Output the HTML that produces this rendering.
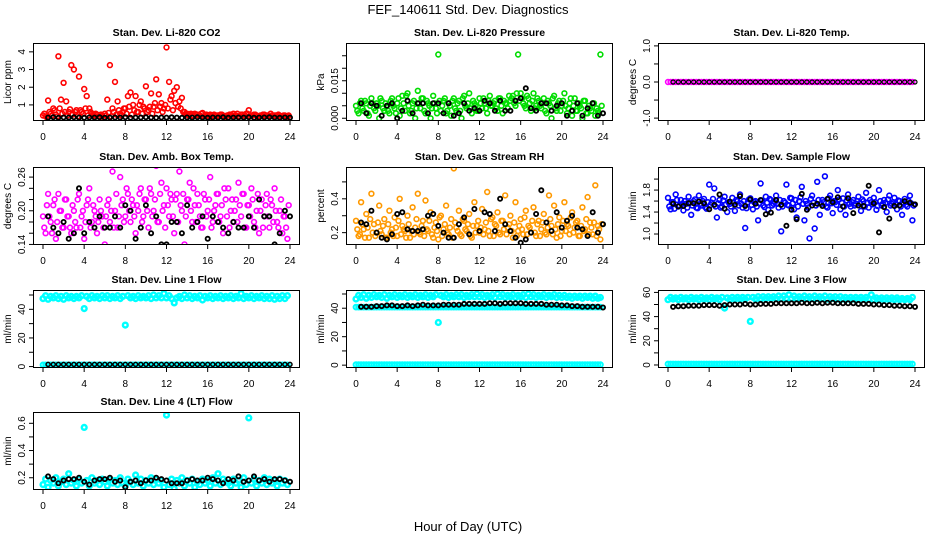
<!DOCTYPE html>
<html><head><meta charset="utf-8"><style>
html,body{margin:0;padding:0;background:#fff;}
svg{display:block;font-family:"Liberation Sans",sans-serif;}
</style></head><body>
<svg id="chart" width="936" height="540" viewBox="0 0 936 540" xmlns="http://www.w3.org/2000/svg">
<rect x="0" y="0" width="936" height="540" fill="#fff"/>
<text x="468" y="14" font-size="13" text-anchor="middle">FEF_140611  Std. Dev. Diagnostics</text>
<text x="468" y="531" font-size="13" text-anchor="middle">Hour of Day (UTC)</text>
</svg>
<script>
const xTicks=[0,4,8,12,16,20,24];
const hours96=Array.from({length:96},(_,i)=>i*0.25);
const hours96b=Array.from({length:96},(_,i)=>i*0.25+0.125);
const hours48=Array.from({length:48},(_,i)=>(i+1)*0.5);

const co2Red=[0.4,0.35,1.25,0.5,0.8,0.45,3.75,1.3,2.25,1.2,0.6,3.25,3.0,0.7,2.6,0.6,1.9,1.5,0.8,0.5,0.4,0.45,0.35,0.4,
0.5,1.3,3.25,0.8,2.3,1.2,0.5,0.6,0.8,1.5,1.7,1.0,1.5,0.6,1.2,0.9,2.05,0.7,1.65,0.9,2.45,1.6,1.1,0.8,
4.25,2.3,1.5,1.8,2.0,1.2,1.4,0.6,0.5,0.45,0.4,0.5,0.45,0.4,0.55,0.4,0.35,0.45,0.4,0.35,0.4,0.45,0.4,0.35,
0.4,0.45,0.5,0.4,0.35,0.45,0.4,0.5,0.7,0.4,0.45,0.4,0.35,0.4,0.45,0.4,0.35,0.4,0.4,0.35,0.4,0.35,0.4,0.35];
const co2Base=[0.5,0.3,0.6,0.4,0.7,0.35,0.8,0.5,0.6,0.4,0.75,0.45,0.6,0.35,0.7,0.5,0.8,0.4,0.6,0.45,0.5,0.35,0.45,0.3,
0.4,0.55,0.35,0.6,0.45,0.7,0.4,0.8,0.5,0.9,0.45,0.7,0.6,1.0,0.5,0.8,0.6,0.9,0.5,1.1,0.7,0.9,0.6,1.0,
0.8,1.3,0.7,1.1,0.9,0.8,0.6,0.5,0.4,0.5,0.35,0.45,0.4,0.5,0.35,0.45,0.4,0.3,0.45,0.4,0.35,0.45,0.3,0.4,
0.45,0.35,0.4,0.5,0.35,0.45,0.4,0.5,0.35,0.4,0.45,0.3,0.4,0.45,0.35,0.4,0.5,0.35,0.4,0.45,0.35,0.4,0.3,0.4];
const co2Black=[0.28,0.3,0.27,0.29,0.28,0.3,0.28,0.27,0.29,0.28,0.3,0.27,0.28,0.29,0.28,0.3,0.27,0.28,0.29,0.3,0.28,0.27,0.29,0.28,
0.3,0.28,0.27,0.29,0.28,0.3,0.28,0.27,0.29,0.28,0.3,0.27,0.28,0.29,0.28,0.3,0.27,0.28,0.29,0.3,0.28,0.27,0.29,0.28];

const pressGreen=[0.005,0.002,0.007,0.003,0.006,0.001,0.008,0.004,0.006,0.000,0.007,0.003,
0.005,0.002,0.008,0.004,0.006,0.001,0.009,0.003,0.010,0.002,0.006,0.000,
0.011,0.004,0.008,0.002,0.006,0.000,0.009,0.004,0.0255,0.003,0.007,0.002,
0.006,0.001,0.008,0.003,0.007,0.000,0.009,0.004,0.010,0.002,0.006,0.003,
0.008,0.004,0.006,0.002,0.009,0.005,0.007,0.003,0.008,0.002,0.006,0.004,
0.007,0.009,0.005,0.0255,0.010,0.006,0.004,0.008,0.003,0.010,0.005,0.007,
0.004,0.008,0.002,0.006,0.000,0.009,0.003,0.007,0.005,0.010,0.002,0.006,
0.001,0.008,0.003,0.005,0.000,0.007,0.002,0.004,0.006,0.001,0.003,0.0255];
const pressGreen2=[0.003,0.006,0.004,0.007,0.002,0.005,0.006,0.003,0.005,0.008,0.004,0.006,
0.003,0.007,0.005,0.002,0.008,0.004,0.006,0.009,0.005,0.003,0.007,0.004,
0.006,0.008,0.003,0.007,0.005,0.004,0.006,0.002,0.007,0.005,0.008,0.003,
0.005,0.007,0.004,0.006,0.003,0.008,0.005,0.006,0.004,0.007,0.005,0.003,
0.006,0.008,0.004,0.007,0.005,0.006,0.004,0.008,0.005,0.007,0.006,0.009,
0.008,0.006,0.010,0.007,0.008,0.005,0.009,0.006,0.007,0.004,0.008,0.005,
0.006,0.003,0.007,0.005,0.008,0.004,0.006,0.003,0.007,0.005,0.004,0.008,
0.005,0.003,0.006,0.004,0.007,0.002,0.005,0.003,0.006,0.004,0.002,0.005];
const pressBlack=[0.006,0.002,0.006,0.005,0.001,0.005,0.006,0.000,0.003,0.007,0.002,0.006,0.006,0.002,0.006,0.006,0.002,0.006,0.001,0.002,0.006,0.003,0.004,0.003,0.007,0.006,0.003,0.007,0.003,0.003,0.007,0.008,0.012,0.004,0.003,0.006,0.006,0.003,0.005,0.006,0.001,0.003,0.006,0.001,0.004,0.006,0.001,0.002];

const tempPink=new Array(96).fill(0);
const tempBlack=new Array(48).fill(0);

const ambPink=[0.19,0.16,0.23,0.18,0.21,0.15,0.23,0.20,0.17,0.22,0.19,0.16,
0.20,0.17,0.23,0.19,0.15,0.21,0.24,0.18,0.20,0.16,0.22,0.19,
0.14,0.21,0.18,0.27,0.20,0.17,0.26,0.22,0.19,0.23,0.18,0.21,
0.16,0.20,0.24,0.19,0.22,0.17,0.23,0.20,0.28,0.18,0.25,0.21,
0.24,0.19,0.22,0.16,0.23,0.27,0.20,0.14,0.22,0.25,0.18,0.21,
0.23,0.19,0.17,0.22,0.20,0.26,0.18,0.21,0.23,0.19,0.16,0.22,
0.24,0.20,0.18,0.22,0.25,0.19,0.23,0.17,0.21,0.24,0.18,0.20,
0.16,0.22,0.19,0.23,0.17,0.21,0.24,0.18,0.20,0.16,0.19,0.15];
const ambPink2=[0.17,0.21,0.19,0.16,0.22,0.18,0.20,0.17,0.22,0.19,0.17,0.21,
0.18,0.22,0.17,0.20,0.18,0.22,0.17,0.21,0.19,0.18,0.20,0.17,
0.19,0.22,0.20,0.17,0.23,0.19,0.21,0.18,0.24,0.20,0.22,0.19,
0.21,0.23,0.18,0.22,0.20,0.24,0.19,0.22,0.18,0.23,0.20,0.17,
0.21,0.23,0.19,0.22,0.18,0.21,0.23,0.19,0.22,0.20,0.24,0.18,
0.21,0.17,0.23,0.19,0.22,0.17,0.20,0.23,0.18,0.21,0.24,0.19,
0.17,0.22,0.20,0.18,0.21,0.23,0.17,0.21,0.19,0.22,0.17,0.23,
0.20,0.17,0.21,0.19,0.22,0.18,0.20,0.17,0.22,0.19,0.17,0.21];
const ambBlack=[0.19,0.17,0.16,0.18,0.15,0.16,0.24,0.16,0.18,0.17,0.19,0.17,0.17,0.19,0.17,0.21,0.20,0.15,0.17,0.21,0.16,0.19,0.14,0.14,0.18,0.18,0.16,0.21,0.17,0.18,0.19,0.15,0.19,0.18,0.17,0.16,0.18,0.17,0.17,0.19,0.17,0.22,0.19,0.19,0.14,0.16,0.20,0.19];

const rhOrange=[0.27,0.18,0.38,0.22,0.31,0.17,0.43,0.25,0.20,0.36,0.19,0.28,
0.17,0.33,0.22,0.29,0.18,0.40,0.24,0.21,0.30,0.17,0.35,0.23,
0.43,0.19,0.27,0.39,0.21,0.32,0.17,0.26,0.16,0.30,0.22,0.36,
0.19,0.28,0.58,0.23,0.33,0.18,0.27,0.21,0.31,0.17,0.38,0.24,
0.20,0.34,0.22,0.44,0.18,0.29,0.25,0.32,0.19,0.27,0.42,0.23,
0.30,0.17,0.38,0.21,0.28,0.19,0.33,0.24,0.20,0.35,0.18,0.27,
0.22,0.31,0.19,0.42,0.24,0.36,0.17,0.29,0.21,0.38,0.25,0.19,
0.32,0.23,0.27,0.18,0.35,0.22,0.41,0.26,0.19,0.48,0.24,0.16];
const rhOrange2=[0.22,0.19,0.25,0.17,0.23,0.28,0.20,0.18,0.26,0.21,0.24,0.17,
0.25,0.20,0.18,0.23,0.27,0.19,0.22,0.17,0.25,0.21,0.19,0.28,
0.20,0.24,0.18,0.22,0.27,0.19,0.23,0.21,0.29,0.18,0.25,0.20,
0.23,0.17,0.26,0.21,0.19,0.28,0.22,0.25,0.18,0.24,0.20,0.27,
0.23,0.19,0.26,0.21,0.28,0.18,0.24,0.20,0.27,0.22,0.19,0.25,
0.21,0.26,0.18,0.24,0.22,0.29,0.19,0.23,0.27,0.20,0.25,0.18,
0.26,0.20,0.23,0.28,0.19,0.22,0.25,0.18,0.27,0.21,0.24,0.29,
0.20,0.26,0.18,0.24,0.21,0.28,0.19,0.23,0.26,0.18,0.22,0.25];
const rhBlack=[0.26,0.25,0.33,0.20,0.17,0.16,0.19,0.31,0.32,0.22,0.21,0.21,0.22,0.30,0.31,0.24,0.20,0.17,0.17,0.25,0.29,0.19,0.34,0.21,0.32,0.31,0.21,0.40,0.25,0.21,0.17,0.14,0.16,0.20,0.31,0.45,0.26,0.21,0.32,0.23,0.27,0.30,0.23,0.22,0.18,0.32,0.20,0.25];

const flowBlue=[1.66,1.45,1.58,1.72,1.50,1.62,1.43,1.55,1.68,1.35,1.60,1.48,
1.70,1.52,1.64,1.46,1.90,1.57,1.83,1.30,1.62,1.50,1.68,1.40,
1.55,1.66,1.42,1.60,1.72,1.48,1.11,1.58,1.65,1.45,1.60,1.25,
1.92,1.52,1.68,1.44,1.62,1.55,1.70,1.48,1.05,1.60,1.90,1.52,
1.65,1.45,1.30,1.60,1.86,1.25,1.55,0.92,1.70,1.10,1.95,1.35,
1.62,2.05,1.48,1.70,1.38,1.58,1.80,1.45,1.65,1.35,1.72,1.50,
1.62,1.55,1.68,1.42,1.60,1.75,1.48,1.58,1.66,1.44,1.80,1.52,
1.62,1.40,1.70,1.55,1.66,1.45,1.60,1.35,1.64,1.50,1.70,1.25];
const flowBlue2=[1.50,1.58,1.46,1.62,1.52,1.55,1.60,1.48,1.57,1.52,1.63,1.47,
1.55,1.60,1.49,1.58,1.53,1.64,1.50,1.56,1.48,1.61,1.54,1.58,
1.50,1.57,1.62,1.52,1.55,1.60,1.47,1.63,1.53,1.58,1.50,1.56,
1.61,1.49,1.57,1.64,1.52,1.58,1.55,1.62,1.50,1.57,1.53,1.66,
1.56,1.62,1.50,1.67,1.55,1.60,1.48,1.64,1.57,1.52,1.62,1.55,
1.58,1.50,1.65,1.56,1.60,1.53,1.63,1.57,1.50,1.61,1.55,1.58,
1.52,1.60,1.56,1.63,1.50,1.57,1.62,1.54,1.58,1.51,1.60,1.55,
1.57,1.63,1.52,1.58,1.55,1.61,1.50,1.57,1.53,1.60,1.56,1.52];
const flowBlack=[1.55,1.50,1.51,1.56,1.56,1.59,1.56,1.45,1.53,1.72,1.46,1.59,1.53,1.69,1.51,1.63,1.55,1.62,1.36,1.39,1.62,1.53,1.15,1.44,1.27,1.73,1.44,1.52,1.55,1.51,1.64,1.58,1.67,1.50,1.65,1.38,1.52,1.51,1.88,1.56,1.03,1.49,1.28,1.51,1.52,1.60,1.57,1.54];

const line1Top=[47.5,49.5,47,49,48,49.5,47.5,49,47,49.5,48,49,
47.5,49,48,49.5,40.5,49,47.5,49.5,48,49,47.5,49.5,
48,49.5,47.5,49,48,49.5,47.5,49,29,49.5,48,49,
47.5,49.5,48,49,48,49.5,47.5,50,48,49.5,48,51,
48,49.5,47.5,44.5,48,49,47.5,50,48,49.5,47.5,49,
48,49.5,46.5,49,48,49.5,47.5,49,48,49.5,47.5,49,
48,49.5,47.5,49,48,51,47.5,49,48,49.5,47.5,49,
48,49.5,47.5,49,47.5,49.5,47,49,47.5,49.5,47.5,49.5];
const line1Base=new Array(96).fill(1.2);
const line1Black=new Array(48).fill(1.5);

const line2Top=[46.5,49,47.5,49.5,47,49,47.5,49.5,48,49,47.5,49.5,
47,49,48,49.5,47.5,49,48,49.5,47.5,49,48,49.5,
47.5,49,48,49.5,47.5,49,48,49.5,30,49,48,49.5,
47.5,49,48,49.5,48,49.5,47.5,49,48,49.5,48,50,
48,49.5,47.5,49,48,49.5,47.5,50,48,49.5,47.5,49,
48,49.5,47.5,49,48,49.5,47.5,50,48,49.5,47.5,49,
48,49.5,47.5,49,48,49.5,47.5,49,47.5,49,47.5,48.5,
47,48.5,47.5,48.5,47,48.5,47.5,48.5,47,48.5,47,47.5];
const line2Mid=new Array(96).fill(40.8);
const line2Base=new Array(96).fill(0.3);
const line2Black=[41,41,41,41.5,41.5,42,42,41.5,41.5,42,41.5,42,42.5,42,42,42,42.5,42.5,42.5,42.5,43,43,43,43,43,43.5,43.5,43,43.5,43.5,43.5,43.5,43,43,43,43,42.5,42.5,42.5,42,42,41.5,41.5,41,41,41,41,40.5];

const line3Top=[54,56,54.5,55.5,54,56,54.5,55.5,54,56,54.5,55.5,
54,56,54.5,55.5,54,56,54.5,55.5,54,56,47,55.5,
54,56,54.5,56,54.5,56,54.5,56,36,56,54.5,56.5,
54.5,56.5,55,56.5,55,56.5,55,57,55,57,55,58,
55,57,55,56.5,55,57,55,56.5,55,57,55,56.5,
55,57,54.5,56.5,55,56.5,54.5,56.5,54.5,56,54.5,56,
54.5,56,54.5,56,54.5,56,54.5,58,54,55.5,54,55.5,
54,55.5,54,55.5,54,55.5,54,55,54,55,54,56];
const line3Base=new Array(96).fill(0.8);
const line3Black=[48,48.5,48.5,49,49,49,49.5,49.5,49.5,49,49.5,50,50,50,50.5,50,50,50.5,50.5,50.5,51,51,51,51,51,51.5,51,51,51.5,51,51.5,51.5,51,51,51,51,50.5,50.5,50.5,50,50,49.5,49.5,49,49,48.5,48.5,48];

const line4Cyan=[0.15,0.19,0.13,0.18,0.16,0.20,0.14,0.17,0.19,0.15,0.23,0.16,
0.18,0.14,0.19,0.16,0.57,0.18,0.14,0.20,0.16,0.18,0.15,0.19,
0.17,0.14,0.19,0.16,0.18,0.15,0.20,0.16,0.14,0.19,0.17,0.15,
0.22,0.16,0.19,0.14,0.18,0.16,0.20,0.15,0.19,0.16,0.18,0.13,
0.66,0.15,0.19,0.12,0.18,0.16,0.20,0.14,0.18,0.16,0.19,0.13,
0.17,0.15,0.19,0.16,0.18,0.14,0.20,0.16,0.23,0.15,0.19,0.17,
0.16,0.14,0.19,0.16,0.18,0.13,0.20,0.15,0.64,0.16,0.19,0.14,
0.18,0.16,0.20,0.15,0.19,0.16,0.18,0.14,0.19,0.16,0.18,0.15];
const line4Black=[0.21,0.19,0.16,0.18,0.19,0.19,0.20,0.17,0.15,0.18,0.19,0.19,0.20,0.17,0.18,0.13,0.17,0.18,0.16,0.18,0.18,0.20,0.19,0.18,0.16,0.16,0.16,0.18,0.19,0.18,0.18,0.20,0.19,0.18,0.16,0.19,0.18,0.21,0.17,0.18,0.21,0.18,0.19,0.17,0.19,0.19,0.18,0.17];

const co2Ticks=[1,2,3,4], co2Labels=['1','2','3','4'];
const pressTicks=[0,0.005,0.01,0.015,0.02,0.025], pressLabels=['0.000','','','0.015','',''];
const tempTicks=[-1,-0.5,0,0.5,1], tempLabels=['-1.0','','0.0','','1.0'];
const ambTicks=[0.14,0.16,0.18,0.20,0.22,0.24,0.26], ambLabels=['0.14','','','0.20','','','0.26'];
const rhTicks=[0.2,0.3,0.4,0.5], rhLabels=['0.2','','0.4',''];
const flowTicks=[1.0,1.2,1.4,1.6,1.8,2.0], flowLabels=['1.0','','1.4','','1.8',''];
const l1Ticks=[0,10,20,30,40,50], l1Labels=['0','','20','','40',''];
const l3Ticks=[0,10,20,30,40,50,60], l3Labels=['0','','20','','40','','60'];
const l4Ticks=[0.2,0.3,0.4,0.5,0.6], l4Labels=['0.2','','0.4','','0.6'];

const svg=document.getElementById('chart');
const NS='http://www.w3.org/2000/svg';
const colLeft=[33,346,658], rowTop=[43,167,290,412], W=267, H=78;

function mk(tag,attrs,parent){const e=document.createElementNS(NS,tag);for(const k in attrs)e.setAttribute(k,attrs[k]);parent.appendChild(e);return e;}

function panel(name,col,row,title,ylab,yMin,yMax,ticks,labels,series){
  const L=colLeft[col],T=rowTop[row];
  const g=mk('g',{},svg);
  
  
  const xs=h=>L+10+h*(247/24);
  const ys=v=>T+(yMax-v)/(yMax-yMin)*H;
  const clip=mk('clipPath',{id:'c'+name},g);
  mk('rect',{x:L,y:T,width:W,height:H},clip);
  const tt=mk('text',{x:L+W/2,y:T-7,'font-size':10.5,'font-weight':'bold','text-anchor':'middle'},g);
  tt.textContent=title;
  
  
  const yl=mk('text',{x:0,y:0,'font-size':10,'text-anchor':'middle',transform:`translate(${L-22},${T+H/2}) rotate(-90)`},g);
  yl.textContent=ylab;
  
  
  const pts=mk('g',{'clip-path':`url(#c${name})`},g);
  series.forEach(s=>{
    const sg=mk('g',{fill:'none',stroke:s.c,'stroke-width':s.w||1.6},pts);
    
    
    s.v.forEach((v,i)=>{
      const c=mk('circle',{cx:xs(s.t[i]).toFixed(1),cy:ys(v).toFixed(1),r:s.r||2.4},sg);
      
      
    });
  });
  const box=mk('rect',{x:L+0.5,y:T+0.5,width:W-1,height:H-1,fill:'none',stroke:'#000','stroke-width':1},g);
  
  
  xTicks.forEach(h=>{
    const x=xs(h);
    mk('line',{x1:x,x2:x,y1:T+H,y2:T+H+4,stroke:'#000'},g);
    const t=mk('text',{x:x,y:T+H+19,'font-size':10,'text-anchor':'middle'},g);
    t.textContent=h;
    
    
  });
  ticks.forEach((v,i)=>{
    const y=ys(v);
    mk('line',{x1:L-4,x2:L,y1:y,y2:y,stroke:'#000'},g);
    if(labels[i]){
      const t=mk('text',{x:0,y:0,'font-size':10,'text-anchor':'middle',transform:`translate(${L-8},${y}) rotate(-90)`},g);
      t.textContent=labels[i];
      
      
    }
  });
}

panel('co2',0,0,'Stan. Dev. Li-820 CO2','Licor ppm',0.09,4.5,co2Ticks,co2Labels,
  [{n:'red-base',c:'#ff0000',t:hours96b,v:co2Base},{n:'red',c:'#ff0000',t:hours96,v:co2Red},{n:'black',c:'#000',t:hours48,v:co2Black,w:1.8,r:2.1}]);
panel('pressure',1,0,'Stan. Dev. Li-820 Pressure','kPa',-0.0011,0.0301,pressTicks,pressLabels,
  [{n:'green',c:'#00dd00',t:hours96,v:pressGreen},{n:'green-2',c:'#00dd00',t:hours96b,v:pressGreen2},{n:'black',c:'#000',t:hours48,v:pressBlack,w:1.8,r:2.1}]);
panel('temp',2,0,'Stan. Dev. Li-820 Temp.','degrees C',-1.08,1.08,tempTicks,tempLabels,
  [{n:'magenta',c:'#ff00ff',t:hours96,v:tempPink},{n:'black',c:'#000',t:hours48,v:tempBlack,w:1.2,r:2}]);
panel('amb',0,1,'Stan. Dev. Amb. Box Temp.','degrees C',0.139,0.278,ambTicks,ambLabels,
  [{n:'magenta',c:'#ff00ff',t:hours96,v:ambPink},{n:'magenta-2',c:'#ff00ff',t:hours96b,v:ambPink2},{n:'black',c:'#000',t:hours48,v:ambBlack,w:1.8,r:2.1}]);
panel('rh',1,1,'Stan. Dev. Gas Stream RH','percent',0.127,0.588,rhTicks,rhLabels,
  [{n:'orange',c:'#ff9900',t:hours96,v:rhOrange},{n:'orange-2',c:'#ff9900',t:hours96b,v:rhOrange2},{n:'black',c:'#000',t:hours48,v:rhBlack,w:1.8,r:2.1}]);
panel('flow',2,1,'Stan. Dev. Sample Flow','ml/min',0.8,2.22,flowTicks,flowLabels,
  [{n:'blue',c:'#0000ff',t:hours96,v:flowBlue},{n:'blue-2',c:'#0000ff',t:hours96b,v:flowBlue2},{n:'black',c:'#000',t:hours48,v:flowBlack,w:1.8,r:2.1}]);
panel('line1',0,2,'Stan. Dev. Line 1 Flow','ml/min',-1,53.5,l1Ticks,l1Labels,
  [{n:'cyan-top',c:'#00ffff',t:hours96,v:line1Top,w:2.4},{n:'cyan-base',c:'#00ffff',t:hours96,v:line1Base,w:2},{n:'black',c:'#000',t:hours48,v:line1Black,w:1.5,r:2}]);
panel('line2',1,2,'Stan. Dev. Line 2 Flow','ml/min',-2,52.8,l1Ticks,l1Labels,
  [{n:'cyan-top',c:'#00ffff',t:hours96,v:line2Top,w:2.4},{n:'cyan-mid',c:'#00ffff',t:hours96,v:line2Mid,w:2},{n:'cyan-base',c:'#00ffff',t:hours96,v:line2Base,w:2},{n:'black',c:'#000',t:hours48,v:line2Black,w:1.8,r:2.1}]);
panel('line3',2,2,'Stan. Dev. Line 3 Flow','ml/min',-2.5,62,l3Ticks,l3Labels,
  [{n:'cyan-top',c:'#00ffff',t:hours96,v:line3Top,w:2.4},{n:'cyan-base',c:'#00ffff',t:hours96,v:line3Base,w:2},{n:'black',c:'#000',t:hours48,v:line3Black,w:1.8,r:2.1}]);
panel('line4',0,3,'Stan. Dev. Line 4 (LT) Flow','ml/min',0.11,0.683,l4Ticks,l4Labels,
  [{n:'cyan',c:'#00ffff',t:hours96,v:line4Cyan,w:2.4},{n:'black',c:'#000',t:hours48,v:line4Black,w:1.8,r:2.1}]);
</script>
</body></html>
